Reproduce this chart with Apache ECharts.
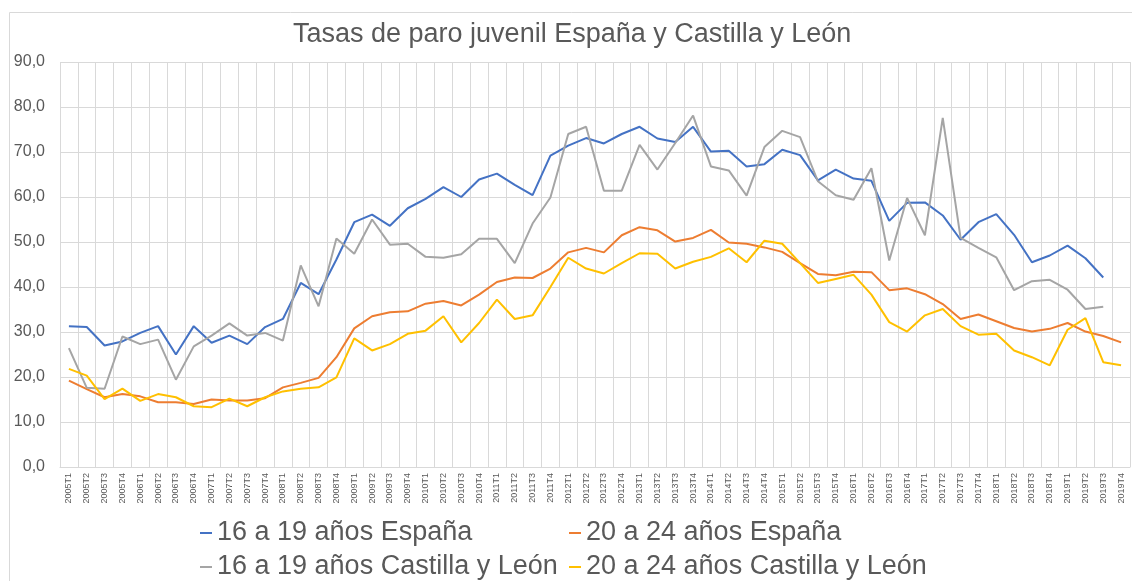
<!DOCTYPE html>
<html>
<head>
<meta charset="utf-8">
<script src="https://cdn.jsdelivr.net/npm/echarts@6/dist/echarts.min.js"></script>
<style>
  html, body { margin: 0; padding: 0; background: #fff; }
  #chart { width: 1132px; height: 581px; }
</style>
</head>
<body>
<div id="chart"></div>
<script>
// trimestres 2005T1 .. 2019T4
const years = [2005, 2006, 2007, 2008, 2009, 2010, 2011, 2012, 2013, 2014, 2015, 2016, 2017, 2018, 2019];
const quarters = [];
years.forEach(y => { for (let q = 1; q <= 4; q++) quarters.push(y + "T" + q); });

const yTicks = [0, 10, 20, 30, 40, 50, 60, 70, 80, 90];

// 16 a 19 años España
const esp1619 = [
  31.3, 31.1, 27.0, 27.9, 29.8, 31.3, 25.0, 31.3, 27.6, 29.2, 27.3, 31.1, 32.9, 40.9,
  38.4, 46.1, 54.4, 56.1, 53.6, 57.5, 59.6, 62.2, 60.0, 63.9, 65.2, 62.7, 60.4, 69.2, 71.4,
  73.1, 71.9, 74.0, 75.6, 73.0, 72.2, 75.6, 70.1, 70.3, 66.8, 67.3, 70.5, 69.3, 63.7, 66.1, 64.1,
  63.6, 54.7, 58.7, 58.8, 55.9, 50.5, 54.4, 56.2, 51.6, 45.5, 47.0, 49.2, 46.4, 42.1, null
];
// 20 a 24 años España
const esp2024 = [
  19.2, 17.3, 15.5, 16.2, 15.7, 14.4, 14.4, 14.0, 15.0, 14.8, 14.8, 15.3, 17.7, 18.7,
  19.8, 24.4, 30.8, 33.5, 34.4, 34.6, 36.3, 36.9, 35.9, 38.3, 41.1, 42.1, 42.0, 44.1, 47.7,
  48.7, 47.7, 51.5, 53.3, 52.6, 50.1, 50.9, 52.7, 49.9, 49.6, 48.8, 47.8, 45.3, 42.9, 42.6, 43.4,
  43.3, 39.3, 39.7, 38.4, 36.2, 32.9, 33.9, 32.4, 30.9, 30.1, 30.7, 32.0, 30.1, 29.1, 27.7
];
// 16 a 19 años Castilla y León
const cyl1619 = [
  26.4, 17.6, 17.4, 29.0, 27.3, 28.3, 19.4, 26.8, 29.2, 31.9, 29.2, 29.8, 28.1, 44.8,
  35.7, 50.8, 47.4, 55.0, 49.4, 49.6, 46.7, 46.5, 47.3, 50.7, 50.7, 45.3, 54.1, 59.9, 74.0,
  75.6, 61.4, 61.4, 71.6, 66.1, 72.0, 78.1, 66.8, 65.9, 60.3, 71.1, 74.7, 73.3, 63.5, 60.4, 59.4,
  66.4, 45.9, 59.8, 51.5, 77.6, 50.9, 48.7, 46.6, 39.3, 41.3, 41.6, 39.4, 35.1, 35.6, null
];
// 20 a 24 años Castilla y León
const cyl2024 = [
  21.8, 20.3, 15.1, 17.4, 14.7, 16.2, 15.5, 13.5, 13.3, 15.2, 13.5, 15.5, 16.8, 17.4,
  17.7, 19.9, 28.6, 25.9, 27.3, 29.6, 30.3, 33.5, 27.7, 32.0, 37.2, 32.9, 33.7, 40.0, 46.5,
  44.1, 43.0, 45.3, 47.5, 47.4, 44.1, 45.6, 46.7, 48.6, 45.5, 50.3, 49.6, 45.3, 40.9, 41.8, 42.7,
  38.3, 32.2, 30.1, 33.7, 35.1, 31.3, 29.4, 29.6, 25.9, 24.4, 22.6, 30.5, 33.1, 23.3, 22.6
];

const names = ["16 a 19 años España", "20 a 24 años España", "16 a 19 años Castilla y León", "20 a 24 años Castilla y León"];
const colors = ["#4472C4", "#ED7D31", "#A5A5A5", "#FFC000"];
const values = [esp1619, esp2024, cyl1619, cyl2024];

const myChart = echarts.init(document.getElementById("chart"));

// one legend per item so the two columns line up like in Excel
const legendPos = [[195, 511], [564, 511], [195, 545], [564, 545]];
const legends = names.map((n, i) => ({
  left: legendPos[i][0],
  top: legendPos[i][1],
  data: [n],
  icon: "rect",
  itemWidth: 12,
  itemHeight: 2,
  textStyle: { fontFamily: "Liberation Sans, Arial", fontSize: 27, color: "#595959", lineHeight: 34 }
}));

const option = {
  animation: false,
  color: colors,
  textStyle: { fontFamily: "Liberation Sans, Arial" },
  graphic: [{
    type: "rect",
    left: 7,
    top: 10,
    shape: { width: 1200, height: 700 },
    style: { fill: "none", stroke: "#d9d9d9", lineWidth: 1 },
    silent: true
  }],
  title: {
    text: "Tasas de paro juvenil España y Castilla y León",
    left: 288,
    top: 16,
    textStyle: { fontSize: 27, fontWeight: "normal", color: "#595959", fontFamily: "Liberation Sans, Arial" }
  },
  legend: legends,
  grid: { left: 60, right: 2, top: 62, bottom: 114 },
  xAxis: {
    type: "category",
    data: quarters,
    axisTick: { show: false },
    axisLine: { lineStyle: { color: "#d9d9d9" } },
    splitLine: { show: true, lineStyle: { color: "#d9d9d9" } },
    axisLabel: { rotate: 90, interval: 0, fontSize: 9, color: "#595959", margin: 6 }
  },
  yAxis: {
    type: "value",
    min: yTicks[0],
    max: yTicks[yTicks.length - 1],
    interval: 10,
    axisLine: { show: false },
    axisTick: { show: false },
    splitLine: { lineStyle: { color: "#d9d9d9" } },
    axisLabel: {
      fontSize: 16,
      color: "#595959",
      margin: 15,
      formatter: v => v.toFixed(1).replace(".", ",")
    }
  },
  series: names.map((n, i) => ({
    name: n,
    type: "line",
    data: values[i],
    showSymbol: false,
    symbol: "none",
    lineStyle: { width: 2, color: colors[i] }
  }))
};

myChart.setOption(option);
</script>
</body>
</html>
